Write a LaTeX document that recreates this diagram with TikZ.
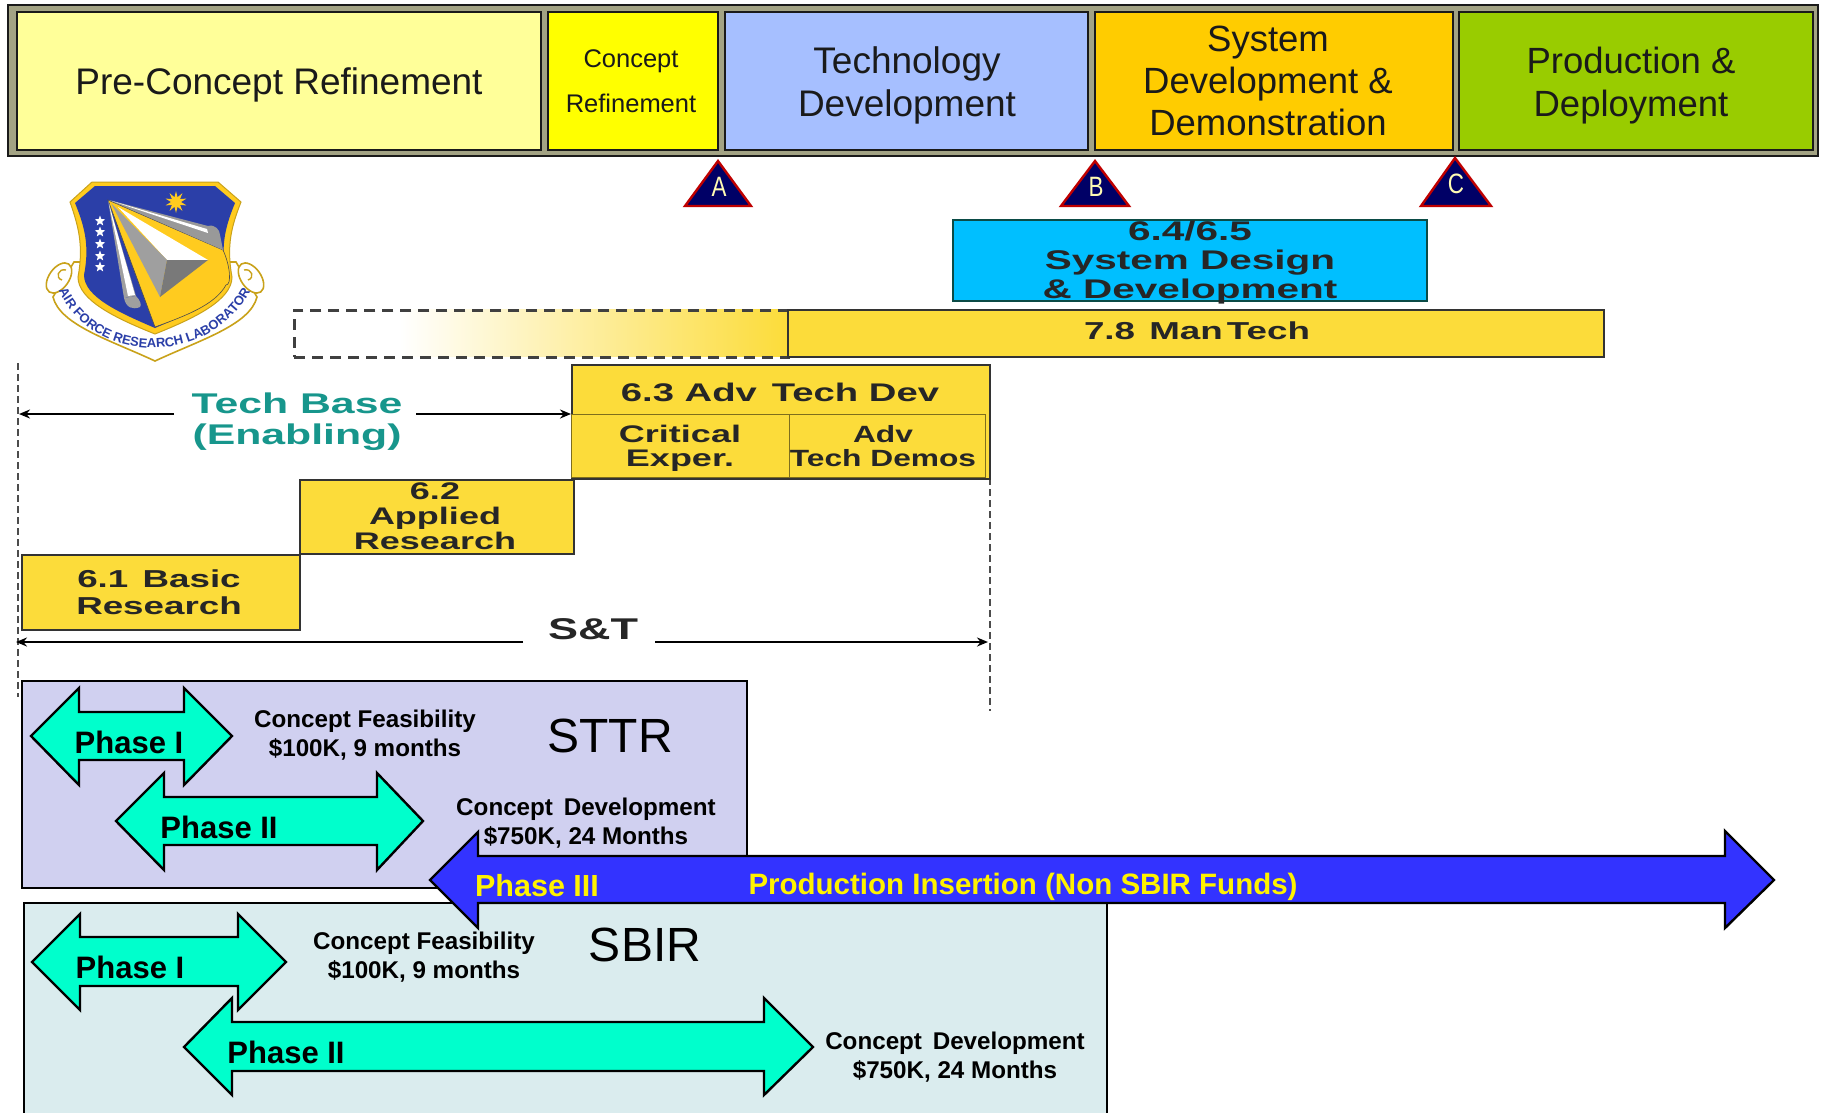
\documentclass[tikz,border=0pt]{standalone}
\usepackage{fontspec}
\setmainfont{Liberation Sans}
\newfontfamily\wideb[FakeStretch=1.5]{Liberation Sans}
\newfontfamily\midb[FakeStretch=1.35]{Liberation Sans}
\newfontfamily\narrowf[FakeStretch=.8]{Liberation Sans}
\usetikzlibrary{shapes.geometric,decorations.text,arrows.meta}
\definecolor{ybar}{HTML}{FCDC3A}
\definecolor{cpre}{HTML}{FFFF99}
\definecolor{ccon}{HTML}{FFFF00}
\definecolor{ctec}{HTML}{A6BFFF}
\definecolor{csys}{HTML}{FFCC00}
\definecolor{cpro}{HTML}{99CC00}
\definecolor{csky}{HTML}{00BFFF}
\definecolor{sttr}{HTML}{D0D0F0}
\definecolor{sbir}{HTML}{DAECEE}
\definecolor{mint}{HTML}{00FFCC}
\definecolor{phiii}{HTML}{3333FF}
\definecolor{teal}{HTML}{17968C}
\definecolor{afblue}{HTML}{2B3FA8}
\definecolor{afgold}{HTML}{FFCB1F}
\definecolor{afedge}{HTML}{C9A21A}
\definecolor{band}{HTML}{A3A384}
\definecolor{ink}{HTML}{1A1A1A}
\newcommand\fs[2]{\fontsize{#1}{#2}\selectfont}
\newcommand\dblarrow[9]{% tipL neckL neckR tipR yc headT headB shaftT shaftB
  \draw[phasearrow] (#1,#5) -- (#2,#6) -- (#2,#8) -- (#3,#8) -- (#3,#6) -- (#4,#5) -- (#3,#7) -- (#3,#9) -- (#2,#9) -- (#2,#7) -- cycle;}
\tikzset{
  cell/.style={draw=ink,line width=1.8pt,inner sep=0pt,anchor=north west},
  toplabel/.style={align=center,inner sep=0pt,text=ink},
  bar/.style={draw=black!80,line width=1.6pt,fill=ybar,inner sep=0pt,anchor=north west},
  phasearrow/.style={fill=mint,draw=black,line width=2.4pt,line join=miter},
  conn/.style={draw=black,line width=2.6pt,-{Stealth[length=11pt,width=9pt]}},
  guide/.style={draw=black!70,line width=2pt,dash pattern=on 7pt off 4pt},
  milestone/.style={fill=blue!40!black,draw=red!75!black,line width=2.4pt,line join=miter},
  msl/.style={text=yellow!30,font=\narrowf\fs{28}{30},inner sep=0pt},
  wt/.style 2 args={font=\wideb\bfseries\fs{#1}{#2},align=center,inner sep=0pt,text=black!85},
  bt/.style={font=\bfseries\fs{24.2}{29},align=center,inner sep=0pt},
  pt/.style={font=\bfseries\fs{31}{34},inner sep=0pt},
  afstar/.style={star,star points=5,star point ratio=2.4,fill=white,inner sep=0pt,minimum size=11pt},
}
\begin{document}
\begin{tikzpicture}[x=1pt,y=-1pt]
\clip (0,0) rectangle (1823,1112);
\fill[white] (0,0) rectangle (1823,1112);

% top bar
\draw[draw=ink,line width=1.6pt,fill=band] (8,5) rectangle (1818,156);
\node[cell,fill=cpre,minimum width=524pt,minimum height=138pt] (pre) at (16,11) {};
\node[cell,fill=ccon,minimum width=170pt,minimum height=138pt] (con) at (547,11) {};
\node[cell,fill=ctec,minimum width=363pt,minimum height=138pt] (tec) at (724,11) {};
\node[cell,fill=csys,minimum width=358pt,minimum height=138pt] (sys) at (1094,11) {};
\node[cell,fill=cpro,minimum width=354pt,minimum height=138pt] (pro) at (1458,11) {};
\node[toplabel,font=\fs{37}{42}] (prel) at (279,85) {Pre-Concept Refinement};
\node[toplabel,font=\fs{25.5}{45}] (conl) at (631,81) {Concept\\Refinement};
\node[toplabel,font=\fs{37}{43}] (tecl) at (907,85) {Technology\\Development};
\node[toplabel,font=\fs{36.5}{42}] (sysl) at (1268,81) {System\\Development \&\\Demonstration};
\node[toplabel,font=\fs{36.5}{43}] (prol) at (1631,86) {Production \&\\Deployment};

% milestones
\draw[milestone] (718,161) -- (751,206) -- (685,206) -- cycle;
\draw[milestone] (1095,161) -- (1129,206) -- (1061,206) -- cycle;
\draw[milestone] (1455,158) -- (1491,206) -- (1421,206) -- cycle;
\node[msl] (mA) at (719,187) {A};
\node[msl] (mB) at (1096,187) {B};
\node[msl] (mC) at (1456,184) {C};

% logo: ribbon
\draw[afedge,fill=white,line width=1.6pt] (53,297) .. controls (60,325) and (110,340) .. (155,361) .. controls (200,340) and (250,325) .. (257,297) -- (236,262) -- (74,262) -- cycle;
\draw[afedge,fill=white,line width=1.6pt,rotate around={-35:(59,278)}] (59,278) ellipse (10pt and 17pt);
\draw[afedge,fill=white,line width=1.6pt,rotate around={35:(251,278)}] (251,278) ellipse (10pt and 17pt);
\draw[afedge,line width=1.4pt] (66,270) .. controls (58,268) and (55,278) .. (62,280);
\draw[afedge,line width=1.4pt] (244,270) .. controls (252,268) and (255,278) .. (248,280);
\path[decorate,decoration={text along path,text align={center},text={|\bfseries\fs{13}{14}\color{afblue}|AIR FORCE RESEARCH LABORATORY}}]
  (62,297) .. controls (100,366) and (210,366) .. (251,290);
% logo: shield
\draw[afedge,fill=afgold,line width=1pt] (92,182) -- (218,182) -- (241,202) .. controls (232,225) and (226,245) .. (232,277) .. controls (232,300) and (195,318) .. (155,334) .. controls (115,318) and (78,300) .. (78,277) .. controls (84,245) and (78,225) .. (70,202) -- cycle;
\fill[afblue] (95,186) -- (215,186) -- (235,203) .. controls (226,225) and (220,245) .. (226,275) .. controls (226,297) and (190,313) .. (155,328) .. controls (120,313) and (84,297) .. (84,275) .. controls (90,245) and (84,225) .. (75,203) -- cycle;
\draw[black!70,fill=afgold,line width=.6pt] (108,200) -- (223,250) .. controls (230,265) and (232,285) .. (226,285) .. controls (215,305) and (185,316) .. (155,327) -- cycle;
\fill[gray!80] (109,200) -- (208,226) .. controls (215,224) and (220,230) .. (220,235) -- (223,250) -- cycle;
\fill[white] (112,201) -- (207,229) -- (208,233) -- cycle;
\fill[white] (118,207) -- (208,260) -- (167,260) -- cycle;
\fill[gray!75] (111,203) -- (167,260) -- (160,297) -- cycle;
\fill[gray!95!black] (167,260) -- (208,260) -- (160,297) -- cycle;
\fill[gray!75] (108,200) -- (136,296) -- (124,298) -- cycle;
\fill[gray!75] (124,298) -- (136,296) .. controls (140,300) and (142,305) .. (140,307) .. controls (133,310) and (126,308) .. cycle;
\fill[white] (109,204) -- (135,295) -- (128,296) -- cycle;
\foreach \i/\y in {1/221,2/232,3/244,4/256,5/267}{\node[afstar] (st\i) at (100,\y) {};}
\node[star,star points=10,star point ratio=2.2,fill=afgold,inner sep=0pt,minimum size=22pt] (sun) at (176,202) {};

% dashed + man tech
\fill[left color=white,right color=ybar] (400,309) rectangle (787,356);
\node[draw=black!75,line width=2.6pt,dash pattern=on 11pt off 7pt,minimum width=494pt,minimum height=47pt,inner sep=0pt,anchor=north west] (ghost) at (293,309) {};
\node[bar,minimum width=816pt,minimum height=47pt] (man) at (787,309) {};
\node[wt={24.5}{25}] (manl) at (1197,331) {7.8\, Man\,Tech};

% 6.4/6.5
\node[draw=teal!50!black,line width=1.6pt,fill=csky,minimum width=474pt,minimum height=81pt,anchor=north west] (sd) at (952,219) {};
\node[wt={27}{29}] (sdl) at (1190,263) {6.4/6.5\\System Design\\\& Development};

% guides
\coordinate (gl1) at (18,363); \coordinate (gl2) at (18,697);
\coordinate (gr1) at (990,478); \coordinate (gr2) at (990,711);
\draw[guide] (gl1) -- (gl2);
\draw[guide] (gr1) -- (gr2);

% stairs
\node[bar,minimum width=418pt,minimum height=114pt] (s63) at (571,364) {};
\node[wt={25.5}{26}] (s63l) at (780,392) {6.3 Adv\, Tech Dev};
\node[draw=black!50!ybar,line width=1.3pt,fill=ybar,minimum width=218pt,minimum height=63pt,inner sep=0pt,anchor=north west] (crit) at (571,414) {};
\node[draw=black!50!ybar,line width=1.3pt,fill=ybar,minimum width=196pt,minimum height=63pt,inner sep=0pt,anchor=north west] (adv) at (789,414) {};
\node[wt={24}{24}] (critl) at (680,448) {Critical\\Exper.};
\node[font=\midb\bfseries\fs{23.5}{23.5},align=center,inner sep=0pt,text=black!85] (advl) at (883,446) {Adv\\Tech Demos};
\node[bar,minimum width=274pt,minimum height=74pt] (s62) at (299,479) {};
\node[wt={24}{25}] (s62l) at (435,516) {6.2\\Applied\\Research};
\node[bar,minimum width=278pt,minimum height=75pt] (s61) at (21,554) {};
\node[wt={24.5}{27}] (s61l) at (159,592) {6.1\, Basic\\Research};

% tech base
\node[font=\wideb\bfseries\fs{28.5}{31},text=teal,align=center,inner sep=0pt] (tb) at (297,422) {Tech Base\\(Enabling)};
\coordinate (tbL) at (19,414); \coordinate (tbLs) at (174,414);
\coordinate (tbR) at (571,414); \coordinate (tbRs) at (416,414);
\draw[conn] (tbLs) -- (tbL);
\draw[conn] (tbRs) -- (tbR);

% S&T
\node[wt={30}{30}] (st) at (593,629) {S\&T};
\coordinate (stL) at (16,642); \coordinate (stLs) at (523,642);
\coordinate (stR) at (988,642); \coordinate (stRs) at (655,642);
\draw[conn] (stLs) -- (stL);
\draw[conn] (stRs) -- (stR);

% STTR
\node[draw=black,line width=2pt,fill=sttr,minimum width=725pt,minimum height=207pt,inner sep=0pt,anchor=north west] (sttrbox) at (21,680) {};
\dblarrow{31}{79}{184}{232}{736}{688}{785}{712}{760}
\dblarrow{116}{164}{377}{423}{821}{773}{870}{797}{845}
\node[pt] (p1a) at (129,742) {Phase I};
\node[pt] (p2a) at (219,827) {Phase II};
\node[bt] (cfa) at (365,735) {Concept Feasibility\\\$100K, 9 months};
\node[bt] (cda) at (586,823) {Concept\, Development\\\$750K, 24 Months};
\node[font=\fs{48}{50},inner sep=0pt] (sttrl) at (610,736) {STTR};

% SBIR
\node[draw=black,line width=2pt,fill=sbir,minimum width=1083pt,minimum height=230pt,inner sep=0pt,anchor=north west] (sbirbox) at (23,902) {};
\dblarrow{32}{80}{238}{286}{962}{914}{1010}{937}{986}
\dblarrow{184}{232}{764}{813}{1047}{998}{1095}{1022}{1071}
\node[pt] (p1b) at (130,967) {Phase I};
\node[pt] (p2b) at (286,1052) {Phase II};
\node[bt] (cfb) at (424,957) {Concept Feasibility\\\$100K, 9 months};
\node[bt] (cdb) at (955,1057) {Concept\, Development\\\$750K, 24 Months};
\node[font=\fs{48}{50},inner sep=0pt] (sbirl) at (645,945) {SBIR};

% Phase III
\draw[phasearrow,fill=phiii] (430,880) -- (478,832) -- (478,856) -- (1725,856) -- (1725,831) -- (1774,880) -- (1725,928) -- (1725,903) -- (478,903) -- (478,928) -- cycle;
\node[font=\bfseries\fs{30.5}{34},text=yellow,inner sep=0pt] (p3) at (537,886) {Phase III};
\node[font=\bfseries\fs{29.5}{34},text=yellow,inner sep=0pt] (prod) at (1023,887) {Production Insertion (Non SBIR Funds)};
\end{tikzpicture}
\end{document}
